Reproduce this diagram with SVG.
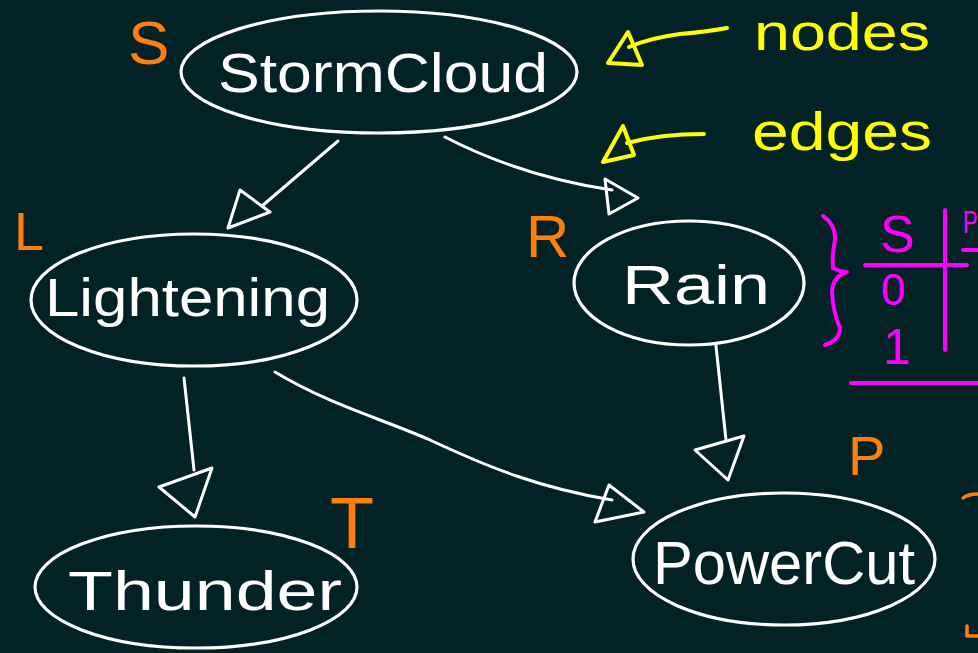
<svg xmlns="http://www.w3.org/2000/svg" width="978" height="653" viewBox="0 0 978 653">
<defs>
<style>
.bg{fill:#022225}
.node{fill:none;stroke:#ffffff;stroke-width:3.2}
.lbl{fill:#ffffff;font-family:"Liberation Sans","DejaVu Sans",sans-serif}
.edge{fill:none;stroke:#ffffff;stroke-width:3;stroke-linecap:round;stroke-linejoin:round}
.var{fill:#ff7f0e;font-family:"Liberation Sans","DejaVu Sans",sans-serif}
.yel{fill:none;stroke:#ffff00;stroke-width:4;stroke-linecap:round;stroke-linejoin:round}
.ytxt{fill:#ffff00;font-family:"Liberation Sans","DejaVu Sans",sans-serif}
.mag{fill:none;stroke:#ff00ff;stroke-width:4;stroke-linecap:round;stroke-linejoin:round}
.mtxt{fill:#ff00ff;font-family:"Liberation Sans","DejaVu Sans",sans-serif}
.org{fill:none;stroke:#ff7f0e;stroke-width:3.5;stroke-linecap:round;stroke-linejoin:round}
</style>
</defs>
<rect class="bg" x="0" y="0" width="978" height="653"/>

<g id="connectors">
  <g id="edge-storm-lightening">
    <path class="edge" d="M338,141 L262,206"/>
    <polygon class="edge" points="228,228 240,190 270,212"/>
  </g>
  <g id="edge-storm-rain">
    <path class="edge" d="M445,137 Q520,176 612,190"/>
    <polygon class="edge" points="638,198 605,179 609,214"/>
  </g>
  <g id="edge-lightening-thunder">
    <path class="edge" d="M184,378 L194,470"/>
    <polygon class="edge" points="195,517 159,487 212,468"/>
  </g>
  <g id="edge-lightening-powercut">
    <path class="edge" d="M275,372 C330,405 380,418 430,440 C490,468 540,488 612,500"/>
    <polygon class="edge" points="644,512 609,485 595,522"/>
  </g>
  <g id="edge-rain-powercut">
    <path class="edge" d="M716,346 L726,440"/>
    <polygon class="edge" points="728,480 695,450 744,436"/>
  </g>
</g>

<g id="node-stormcloud">
  <ellipse class="node" cx="379" cy="72" rx="198" ry="61"/>
  <text class="lbl" x="218" y="92" font-size="56" textLength="330" lengthAdjust="spacingAndGlyphs">StormCloud</text>
  <text class="var" x="128" y="64" font-size="62">S</text>
</g>

<g id="node-lightening">
  <ellipse class="node" cx="194" cy="300" rx="163" ry="66"/>
  <text class="lbl" x="45" y="316" font-size="54" textLength="285" lengthAdjust="spacingAndGlyphs">Lightening</text>
  <text class="var" x="14" y="250" font-size="54">L</text>
</g>

<g id="node-rain">
  <ellipse class="node" cx="689" cy="283" rx="115" ry="62"/>
  <text class="lbl" x="622" y="304" font-size="56" textLength="148" lengthAdjust="spacingAndGlyphs">Rain</text>
  <text class="var" x="526" y="257" font-size="60">R</text>
</g>

<g id="node-thunder">
  <ellipse class="node" cx="196" cy="587" rx="161" ry="61"/>
  <text class="lbl" x="68" y="610" font-size="56" textLength="274" lengthAdjust="spacingAndGlyphs">Thunder</text>
  <text class="var" x="330" y="548" font-size="72">T</text>
</g>

<g id="node-powercut">
  <ellipse class="node" cx="784" cy="559" rx="151" ry="66"/>
  <text class="lbl" x="653" y="584" font-size="62" textLength="262" lengthAdjust="spacingAndGlyphs">PowerCut</text>
  <text class="var" x="848" y="475" font-size="56">P</text>
</g>

<g id="legend-nodes">
  <path class="yel" d="M629,47 Q650,38 680,34 Q705,32 727,28"/>
  <polygon class="yel" points="608,63 628,32 642,65"/>
  <text class="ytxt" x="754" y="50" font-size="52" textLength="176" lengthAdjust="spacingAndGlyphs">nodes</text>
</g>

<g id="legend-edges">
  <path class="yel" d="M627,143 Q660,134 704,134"/>
  <polygon class="yel" points="603,162 623,126 634,155"/>
  <text class="ytxt" x="752" y="150" font-size="54" textLength="180" lengthAdjust="spacingAndGlyphs">edges</text>
</g>

<g id="table">
  <path class="mag" d="M823,216 Q836,225 835,240 Q832,255 833,268 Q840,272 847,272 Q833,276 832,292 Q833,312 840,328 Q840,340 825,345"/>
  <line class="mag" x1="865" y1="265" x2="967" y2="265"/>
  <line class="mag" x1="945" y1="210" x2="945" y2="350"/>
  <line class="mag" x1="851" y1="383" x2="978" y2="383"/>
  <line class="mag" x1="963" y1="250" x2="978" y2="250"/>
  <text class="mtxt" x="880" y="252" font-size="52">S</text>
  <text class="mtxt" x="881" y="305" font-size="44">0</text>
  <text class="mtxt" x="883" y="364" font-size="50">1</text>
  <text class="mtxt" x="963" y="233" font-size="22" transform="translate(963,233) scale(1,1.4) translate(-963,-233)">P</text>
</g>

<path class="org" d="M963,498 Q968,494 978,494"/>
<path class="org" d="M967,626 L967,636 L978,636"/>
</svg>
